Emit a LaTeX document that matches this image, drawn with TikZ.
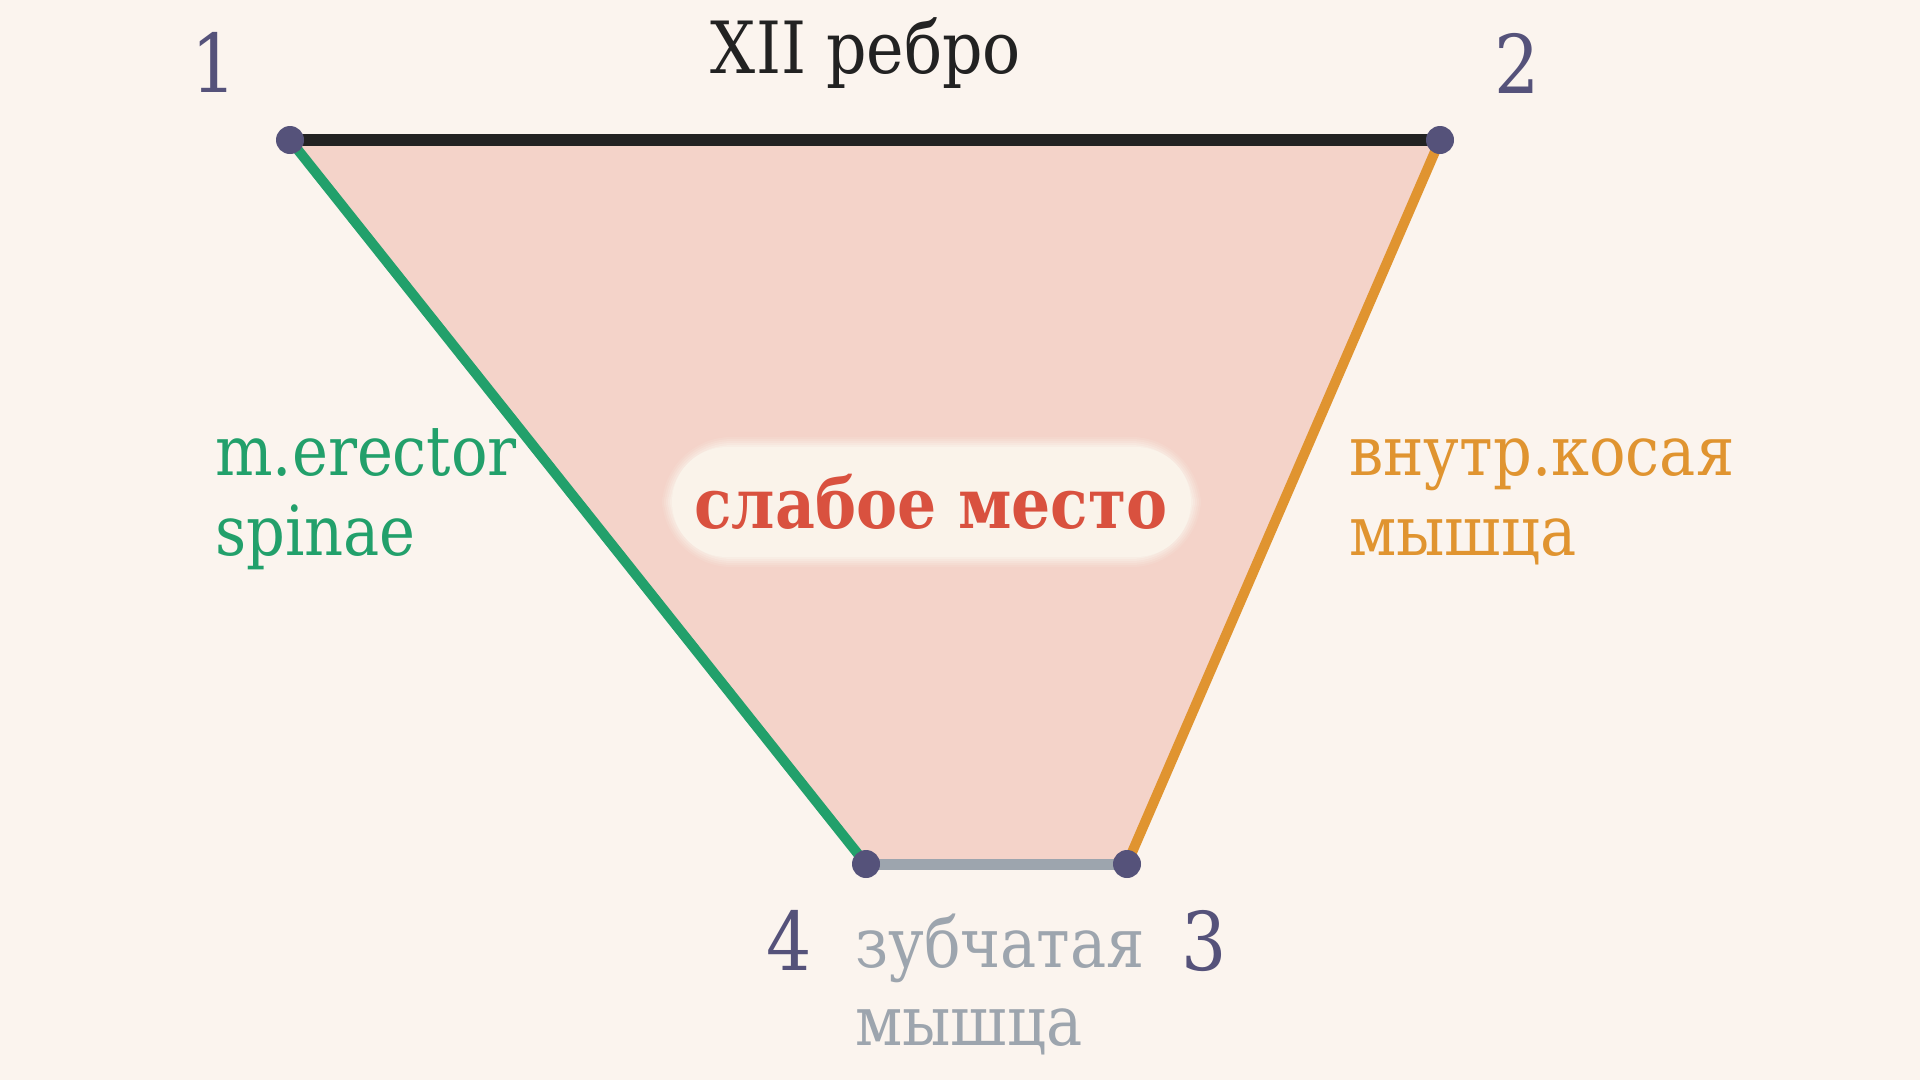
\documentclass[tikz,border=0pt]{standalone}
\usepackage{fontspec}
\setmainfont{DejaVu Serif}[FakeStretch=0.88]
\definecolor{bg}{HTML}{FBF4EE}
\definecolor{fillc}{HTML}{F4D3C9}
\definecolor{topc}{HTML}{222222}
\definecolor{greenc}{HTML}{22A06B}
\definecolor{orangec}{HTML}{E09430}
\definecolor{grayc}{HTML}{9DA5AE}
\definecolor{dotc}{HTML}{55527A}
\definecolor{redc}{HTML}{D9513F}
\definecolor{pillc}{HTML}{FAF3EA}
\tikzset{
  edge/.style={line width=10pt, line cap=butt},
  dotnode/.style={circle, fill=dotc, inner sep=0pt, minimum size=28pt},
  lbl/.style={inner sep=0pt, anchor=base west, font=\fontsize{69}{80}\selectfont},
  num/.style={inner sep=0pt, anchor=base, text=dotc, font=\fontsize{81}{90}\selectfont},
}
\begin{document}
\begin{tikzpicture}[x=1pt,y=-1pt]
\useasboundingbox (0,0) rectangle (1920,1080);
\fill[bg] (0,0) rectangle (1920,1080);
\coordinate (p1) at (290,140);
\coordinate (p2) at (1440,140);
\coordinate (p3) at (1127,864);
\coordinate (p4) at (866,864);
\fill[fillc] (p1) -- (p2) -- (p3) -- (p4) -- cycle;
\draw[edge, topc, line width=12pt] (p1) -- (p2);
\draw[edge, orangec] (p2) -- (p3);
\draw[edge, grayc, line width=11pt] (p3) -- (p4);
\draw[edge, greenc] (p4) -- (p1);
\node[dotnode] (d1) at (p1) {};
\node[dotnode] (d2) at (p2) {};
\node[dotnode] (d3) at (p3) {};
\node[dotnode] (d4) at (p4) {};
% pill with soft glow
\foreach \e/\o in {10/0.15,8/0.2,6/0.25,4/0.35,2/0.5}{
  \fill[pillc, opacity=\o, rounded corners=60pt+\e pt] (672-\e,447-\e) rectangle (1191+\e,557+\e);
}
\fill[pillc, rounded corners=55pt] (672,447) rectangle (1191,557);
\node[inner sep=0pt, anchor=base, text=redc, font=\fontsize{70}{80}\selectfont\bfseries] (weak) at (931,528) {слабое место};
% labels
\node[num] (n1) at (214,92) {1};
\node[num] (n2) at (1517,93) {2};
\node[num] (n4) at (789,970) {4};
\node[num] (n3) at (1204,970) {3};
\node[lbl, anchor=base, text=topc, font=\fontsize{72}{80}\selectfont] (rib) at (866,73) {XII ребро};
\node[lbl, text=greenc] (er1) at (215,475) {m.erector};
\node[lbl, text=greenc] (er2) at (215,555) {spinae};
\node[lbl, text=orangec] (ob1) at (1349,475) {внутр.косая};
\node[lbl, text=orangec] (ob2) at (1349,555) {мышца};
\node[lbl, text=grayc] (se1) at (855,967) {зубчатая};
\node[lbl, text=grayc] (se2) at (855,1045) {мышца};
\end{tikzpicture}
\end{document}
